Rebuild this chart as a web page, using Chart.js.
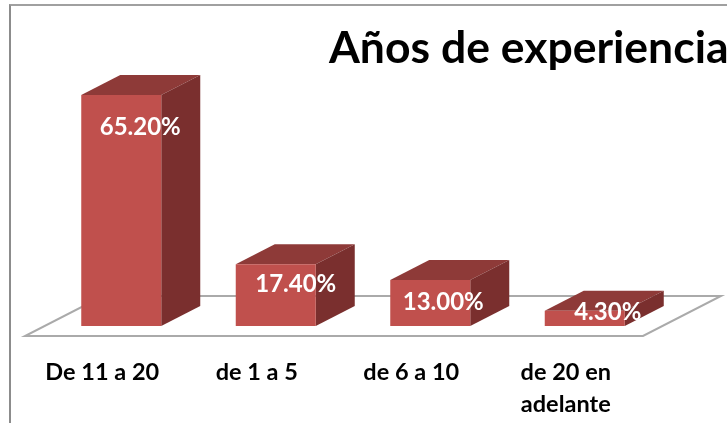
<!DOCTYPE html>
<html>
<head>
<meta charset="utf-8">
<script src="https://cdn.jsdelivr.net/npm/chart.js@4"></script>
<style>
    html, body { margin: 0; padding: 0; background: #fff; overflow: hidden; }
    #frame { position: absolute; left: 9px; top: 4px; width: 718px; height: 419px; box-sizing: border-box;
             border-left: 2px solid #8c8c8c; border-top: 2px solid #a0a0a0; }
    canvas { position: absolute; left: 0; top: 0; }
</style>
</head>
<body>
<div id="frame"></div>
<canvas id="chart" width="727" height="423"></canvas>
<script>
const chartTitle = 'Años de experiencia';
const categories = ['De 11 a 20', 'de 1 a 5', 'de 6 a 10', ['de 20 en', 'adelante']];
const percentages = [65.2, 17.4, 13.0, 4.3];
const valueLabels = ['65.20%', '17.40%', '13.00%', '4.30%'];

const FONT = 'Lato, "Open Sans", sans-serif';
const DEPTH_X = 39;
const DEPTH_Y = 20;

function polygon(ctx, points, fill) {
    ctx.beginPath();
    points.forEach(([x, y], i) => i ? ctx.lineTo(x, y) : ctx.moveTo(x, y));
    ctx.closePath();
    ctx.fillStyle = fill;
    ctx.fill();
}

// floor and the 3d sides of the bars, behind the library's bars
const box3d = {
    id: 'box3d',
    beforeDatasetsDraw(chart) {
        const ctx = chart.ctx;
        const area = chart.chartArea;
        const base = chart.scales.y.getPixelForValue(0);

        // floor
        const floorLeft = area.left - 19;
        const floorRight = area.right - 19;
        const floorFront = base + 10;
        ctx.save();
        ctx.beginPath();
        ctx.moveTo(floorLeft, floorFront);
        ctx.lineTo(floorRight, floorFront);
        ctx.lineTo(floorRight + 2 * DEPTH_X, floorFront - 2 * DEPTH_Y);
        ctx.lineTo(floorLeft + 2 * DEPTH_X, floorFront - 2 * DEPTH_Y);
        ctx.closePath();
        ctx.strokeStyle = '#aaaaaa';
        ctx.lineWidth = 2;
        ctx.stroke();

        chart.getDatasetMeta(0).data.forEach(bar => {
            const left = bar.x - bar.width / 2;
            const right = bar.x + bar.width / 2;
            polygon(ctx, [[left, bar.y], [right, bar.y], [right + DEPTH_X, bar.y - DEPTH_Y], [left + DEPTH_X, bar.y - DEPTH_Y]], '#8e3a38');
            polygon(ctx, [[right, bar.y], [right + DEPTH_X, bar.y - DEPTH_Y], [right + DEPTH_X, base - DEPTH_Y], [right, base]], '#7a2f2e');
        });
        ctx.restore();
    },
    afterDatasetsDraw(chart, args, opts) {
        const ctx = chart.ctx;
        ctx.save();
        ctx.textAlign = 'center';
        ctx.textBaseline = 'middle';
        ctx.fillStyle = '#fff';
        ctx.font = 'bold 24px ' + FONT;
        chart.getDatasetMeta(0).data.forEach((bar, i) => {
            const [dx, dy] = opts.labelOffsets[i];
            ctx.fillText(valueLabels[i], bar.x + dx, bar.y + dy);
        });

        ctx.textAlign = 'left';
        ctx.fillStyle = '#000';
        ctx.font = 'bold 44.5px ' + FONT;
        ctx.fillText(chartTitle, opts.titleX, opts.titleY);
        ctx.restore();
    }
};

new Chart(document.getElementById('chart').getContext('2d'), {
    type: 'bar',
    data: {
        labels: categories,
        datasets: [{
            data: percentages,
            backgroundColor: '#c0504d',
            borderWidth: 0,
            barPercentage: 80 / 154.5,
            categoryPercentage: 1
        }]
    },
    options: {
        responsive: false,
        animation: false,
        layout: { padding: { left: 44, right: 65, top: 78, bottom: 0 } },
        plugins: {
            legend: { display: false },
            title: { display: false },
            tooltip: { enabled: false },
            box3d: {
                labelOffsets: [[19, 32], [20, 20], [13, 22], [23, 1]],
                titleX: 329,
                titleY: 49
            }
        },
        scales: {
            x: {
                afterFit: scale => { scale.height = 97; },
                grid: { display: false },
                border: { display: false },
                ticks: {
                    maxRotation: 0,
                    minRotation: 0,
                    autoSkip: false,
                    labelOffset: -19,
                    padding: 22,
                    color: '#000',
                    font: { family: FONT, size: 23.5, weight: 'bold', lineHeight: 1.36 }
                }
            },
            y: { display: false, min: 0, max: 70 }
        }
    },
    plugins: [box3d]
});
</script>
</body>
</html>
